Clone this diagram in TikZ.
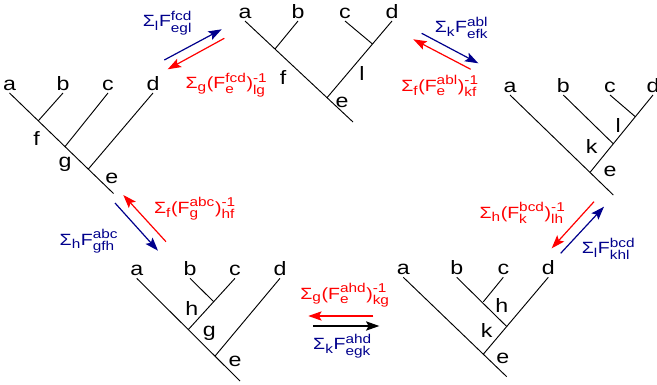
\documentclass[tikz,border=0pt]{standalone}
\usepackage{fontspec}
\usepackage{amsmath}
\setmainfont[FakeStretch=1.2]{Liberation Sans}
\DeclareMathSizes{12.2}{12.2}{9.6}{7}
\usetikzlibrary{arrows.meta}

\definecolor{movenavy}{RGB}{0,0,140}
\newcommand{\fmove}[3]{$\text{Σ}_{\text{#1}}\text{F}^{\text{#2}}_{\text{#3}}$}
\newcommand{\finvmove}[4]{$\text{Σ}_{\text{#1}}\text{(F}^{\text{#2}}_{\text{#3}}\text{)}^{\text{-1}}_{\text{#4}}$}

\begin{document}
\begin{tikzpicture}[
    x=0.75pt, y=-0.75pt,
    leaf/.style={inner sep=1.5pt, anchor=south, font=\fontsize{14.5}{17}\selectfont},
    edgelbl/.style={inner sep=0pt, font=\fontsize{14.5}{17}\selectfont},
    branch/.style={line width=0.7pt},
    move/.style={line width=0.9pt, -{Stealth[length=10pt, width=7pt, inset=2pt]}},
    fwd/.style={move, movenavy},
    back/.style={move, red},
    movelbl/.style={anchor=base, inner sep=0pt, font=\fontsize{12.2}{14}\selectfont}
]
\useasboundingbox (0,0) rectangle (657,385);

% top tree
\node[leaf] (a1) at (245,21) {a};
\node[leaf] (b1) at (298,21) {b};
\node[leaf] (c1) at (345,21) {c};
\node[leaf] (d1) at (392,21) {d};
\coordinate (f1) at (275,49);
\coordinate (l1) at (372.5,44);
\coordinate (e1) at (327,97.7);
\coordinate (root1) at (353,122);
\draw[branch] (a1.south) -- (root1);
\draw[branch] (b1.south) -- (f1);
\draw[branch] (c1.south) -- (l1);
\draw[branch] (d1.south) -- (e1);
\node[edgelbl] (lblf1) at (283,78) {f};
\node[edgelbl] (lbll1) at (362,73) {l};
\node[edgelbl] (lble1) at (342,102) {e};

% left tree
\node[leaf] (a2) at (9.5,93) {a};
\node[leaf] (b2) at (63,93) {b};
\node[leaf] (c2) at (108,93) {c};
\node[leaf] (d2) at (153,93) {d};
\coordinate (f2) at (38.3,120.8);
\coordinate (g2) at (65,146.6);
\coordinate (e2) at (88.3,169.1);
\coordinate (root2) at (113.5,193.5);
\draw[branch] (a2.south) -- (root2);
\draw[branch] (b2.south) -- (f2);
\draw[branch] (c2.south) -- (g2);
\draw[branch] (d2.south) -- (e2);
\node[edgelbl] (lblf2) at (36.7,138.3) {f};
\node[edgelbl] (lblg2) at (65,164) {g};
\node[edgelbl] (lble2) at (111.7,178.3) {e};

% bottom left tree
\node[leaf] (a3) at (136.7,278.3) {a};
\node[leaf] (b3) at (190,278.3) {b};
\node[leaf] (c3) at (235,278.3) {c};
\node[leaf] (d3) at (280,278.3) {d};
\coordinate (h3) at (213.7,301.7);
\coordinate (g3) at (188.3,329.6);
\coordinate (e3) at (215,356.1);
\coordinate (root3) at (240,381);
\draw[branch] (a3.south) -- (root3);
\draw[branch] (b3.south) -- (h3);
\draw[branch] (c3.south) -- (g3);
\draw[branch] (d3.south) -- (e3);
\node[edgelbl] (lblh3) at (191.7,308.3) {h};
\node[edgelbl] (lblg3) at (209.3,333.3) {g};
\node[edgelbl] (lble3) at (235,361.7) {e};

% bottom right tree
\node[leaf] (a4) at (403.3,277.3) {a};
\node[leaf] (b4) at (456.7,277.3) {b};
\node[leaf] (c4) at (503.3,277.3) {c};
\node[leaf] (d4) at (548.3,277.3) {d};
\coordinate (h4) at (483.3,301.8);
\coordinate (k4) at (506.7,326.5);
\coordinate (e4) at (483.3,354.2);
\coordinate (root4) at (506.7,376.7);
\draw[branch] (a4.south) -- (root4);
\draw[branch] (b4.south) -- (k4);
\draw[branch] (c4.south) -- (h4);
\draw[branch] (d4.south) -- (e4);
\node[edgelbl] (lblh4) at (501.7,305) {h};
\node[edgelbl] (lblk4) at (486.7,330) {k};
\node[edgelbl] (lble4) at (502.7,358.3) {e};

% right tree
\node[leaf] (a5) at (510,95) {a};
\node[leaf] (b5) at (563.3,95) {b};
\node[leaf] (c5) at (610,95) {c};
\node[leaf] (d5) at (653,95) {d};
\coordinate (l5) at (635.3,116.7);
\coordinate (k5) at (613.3,143.8);
\coordinate (e5) at (590,172.4);
\coordinate (root5) at (613.3,195);
\draw[branch] (a5.south) -- (root5);
\draw[branch] (b5.south) -- (k5);
\draw[branch] (c5.south) -- (l5);
\draw[branch] (d5.south) -- (e5);
\node[edgelbl] (lbll5) at (618.3,125) {l};
\node[edgelbl] (lblk5) at (591.7,146.7) {k};
\node[edgelbl] (lble5) at (610,171.7) {e};

% moves between trees
\coordinate (p21) at (164.3,60);   \coordinate (q21) at (221.7,29.3);
\coordinate (p12) at (224.3,38.3); \coordinate (q12) at (167.7,69.3);
\coordinate (p15) at (421.7,33.3); \coordinate (q15) at (478.3,63.3);
\coordinate (p51) at (470.7,69.3); \coordinate (q51) at (413.3,39.3);
\coordinate (p23) at (115,203);    \coordinate (q23) at (158,250.7);
\coordinate (p32) at (166,241.7);  \coordinate (q32) at (123.3,195);
\coordinate (p43) at (373.3,316);  \coordinate (q43) at (308.3,316);
\coordinate (p34) at (313.3,326);  \coordinate (q34) at (379.3,326);
\coordinate (p54) at (594,201.7);  \coordinate (q54) at (551.7,248.3);
\coordinate (p45) at (560.7,253.3); \coordinate (q45) at (604,206.7);

\draw[fwd] (p21) -- (q21);
\draw[back] (p12) -- (q12);
\draw[fwd] (p15) -- (q15);
\draw[back] (p51) -- (q51);
\draw[fwd] (p23) -- (q23);
\draw[back] (p32) -- (q32);
\draw[back] (p43) -- (q43);
\draw[move] (p34) -- (q34);
\draw[back] (p54) -- (q54);
\draw[fwd] (p45) -- (q45);

\node[movelbl, movenavy] (m21) at (167.5,26.5) {\fmove{l}{fcd}{egl}};
\node[movelbl, red] (m12) at (226.5,89) {\finvmove{g}{fcd}{e}{lg}};
\node[movelbl, movenavy] (m15) at (461.5,32.5) {\fmove{k}{abl}{efk}};
\node[movelbl, red] (m51) at (440,91.5) {\finvmove{f}{abl}{e}{kf}};
\node[movelbl, red] (m32) at (195,213.3) {\finvmove{f}{abc}{g}{hf}};
\node[movelbl, movenavy] (m23) at (89,245) {\fmove{h}{abc}{gfh}};
\node[movelbl, red] (m43) at (345,299.3) {\finvmove{g}{ahd}{e}{kg}};
\node[movelbl, movenavy] (m34) at (342.5,349.3) {\fmove{k}{ahd}{egk}};
\node[movelbl, red] (m54) at (522.5,218) {\finvmove{h}{bcd}{k}{lh}};
\node[movelbl, movenavy] (m45) at (608.5,253.5) {\fmove{l}{bcd}{khl}};

\end{tikzpicture}
\end{document}
